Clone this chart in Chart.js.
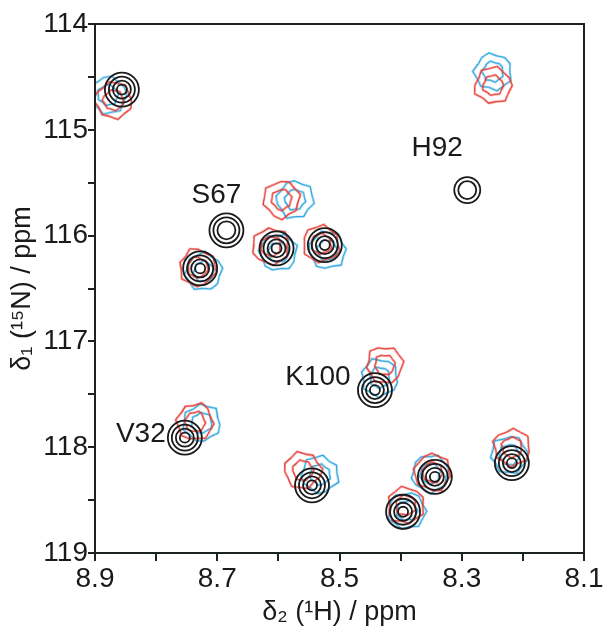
<!DOCTYPE html>
<html>
<head>
<meta charset="utf-8">
<script src="https://cdn.jsdelivr.net/npm/chart.js@4/dist/chart.umd.min.js"></script>
<style>
  html, body { margin: 0; background: #fff; }
</style>
</head>
<body>
<canvas id="chart" width="611" height="629"></canvas>
<script>
// peak positions (1H ppm, 15N ppm)
var blackH = [8.856, 8.685, 8.728, 8.603, 8.524, 8.291, 8.442, 8.753, 8.545, 8.344, 8.396, 8.218];
var blackN = [114.62, 115.95, 116.31, 116.12, 116.09, 115.57, 117.46, 117.91, 118.36, 118.28, 118.61, 118.15];
var blackLevels = [4, 3, 4, 4, 4, 2, 4, 4, 4, 4, 4, 4];

var redH = [8.870, 8.732, 8.612, 8.530, 8.595, 8.249, 8.426, 8.736, 8.560, 8.348, 8.392, 8.218];
var redN = [114.72, 116.30, 116.10, 116.08, 115.66, 114.58, 117.22, 117.76, 118.22, 118.24, 118.55, 118.00];

var blueH = [8.879, 8.722, 8.600, 8.520, 8.573, 8.249, 8.434, 8.725, 8.532, 8.352, 8.390, 8.222];
var blueN = [114.67, 116.34, 116.16, 116.14, 115.66, 114.45, 117.34, 117.77, 118.26, 118.25, 118.60, 118.07];

var peakNames = ["S67", "H92", "K100", "V32"];
var peakOf = [1, 5, 6, 7];

var xTickLabels = ["8.9", "8.7", "8.5", "8.3", "8.1"];
var yTickLabels = ["114", "115", "116", "117", "118", "119"];

var FONT = "'Liberation Sans Narrow', 'Liberation Sans', Arial, sans-serif";
var INK = "#1c2222";

function pts(xs, ys, keep) {
  var out = [];
  xs.forEach(function (x, i) {
    if (!keep || keep(i)) out.push({ x: x, y: ys[i] });
  });
  return out;
}

// wobbly closed contour used as a point style for the red / blue spectra
function blob(color, r, shape) {
  var c = document.createElement("canvas");
  var s = Math.ceil(r * 2.8);
  c.width = c.height = s;
  var g = c.getContext("2d");
  g.strokeStyle = color;
  g.lineWidth = 1.6;
  g.lineJoin = "round";
  g.beginPath();
  shape.forEach(function (m, i) {
    var a = (i / shape.length) * Math.PI * 2;
    var px = s / 2 + Math.cos(a) * r * m;
    var py = s / 2 + Math.sin(a) * r * m;
    if (i) g.lineTo(px, py);
    else g.moveTo(px, py);
  });
  g.closePath();
  g.stroke();
  return c;
}

var redShape = [1.0, 1.08, 0.96, 1.1, 0.92, 1.02, 0.9, 1.12, 1.0, 0.88, 1.05, 0.95, 1.08, 0.93];
var blueShape = [1.05, 0.94, 1.12, 0.98, 1.1, 0.9, 1.06, 0.95, 1.13, 0.92, 1.0, 1.07, 0.9, 1.02];

var RED = "#e63b34";
var BLUE = "#2ba6de";
var ringRadius = [17, 13, 9, 5];

// weak peaks lose the outermost and innermost rings
function hasRing(k, n) {
  return k >= Math.max(0, 3 - n) && k < Math.max(n, 3);
}

var datasets = [];
ringRadius.forEach(function (r, k) {
  datasets.push({
    label: "ref " + k,
    data: pts(blackH, blackN, function (i) { return hasRing(k, blackLevels[i]); }),
    pointStyle: "circle",
    pointRadius: r,
    pointHoverRadius: r,
    pointBorderWidth: 1.8,
    pointBorderColor: "#1a1a1a",
    pointBackgroundColor: "rgba(0,0,0,0)",
    showLine: false,
    order: 0
  });
});
[[redH, redN, RED, redShape, 1], [blueH, blueN, BLUE, blueShape, 2]].forEach(function (s) {
  [18, 10].forEach(function (r) {
    datasets.push({
      label: s[2] + r,
      data: pts(s[0], s[1]),
      pointStyle: blob(s[2], r, s[3]),
      pointRotation: function (ctx) { return (ctx.dataIndex * 67) % 360; },
      showLine: false,
      order: s[4]
    });
  });
});

var frame = {
  id: "frame",
  afterDraw: function (chart) {
    var a = chart.chartArea, ctx = chart.ctx;
    ctx.save();
    ctx.strokeStyle = INK;
    ctx.lineWidth = 2;
    ctx.strokeRect(a.left, a.top, a.right - a.left, a.bottom - a.top);
    ctx.restore();
  }
};

var peakLabels = {
  id: "peakLabels",
  afterDatasetsDraw: function (chart, args, opts) {
    var ctx = chart.ctx, sx = chart.scales.x, sy = chart.scales.y;
    ctx.save();
    ctx.font = "28px " + FONT;
    ctx.fillStyle = "#1a1a1a";
    ctx.textAlign = "center";
    ctx.textBaseline = "middle";
    peakNames.forEach(function (name, j) {
      var i = peakOf[j];
      ctx.fillText(name,
        sx.getPixelForValue(blackH[i]) + opts.offsets[j][0],
        sy.getPixelForValue(blackN[i]) + opts.offsets[j][1]);
    });
    ctx.restore();
  }
};

new Chart("chart", {
  type: "scatter",
  data: { datasets: datasets },
  plugins: [frame, peakLabels],
  options: {
    responsive: false,
    animation: false,
    layout: { padding: { left: 0, right: 27, top: 24, bottom: 0 } },
    plugins: {
      legend: { display: false },
      tooltip: { enabled: false },
      peakLabels: { offsets: [[-10, -35], [-30, -42], [-57, -13], [-44, -3]] }
    },
    scales: {
      x: {
        type: "linear",
        min: 8.1,
        max: 8.9,
        reverse: true,
        afterFit: function (s) { s.height = 76; },
        border: { color: INK, width: 2 },
        grid: { drawOnChartArea: false, color: INK, lineWidth: 2, tickLength: 8 },
        ticks: {
          stepSize: 0.1,
          padding: 1,
          color: "#1a1a1a",
          font: { family: FONT, size: 28 },
          maxRotation: 0,
          autoSkip: false,
          callback: function (v) {
            var t = v.toFixed(1);
            return xTickLabels.indexOf(t) >= 0 ? t : "";
          }
        },
        title: {
          display: true,
          text: "δ₂ (¹H) / ppm",
          color: "#1a1a1a",
          font: { family: FONT, size: 27 },
          padding: { top: 0, bottom: 0 }
        }
      },
      y: {
        type: "linear",
        min: 114,
        max: 119,
        reverse: true,
        afterFit: function (s) { s.width = 95; },
        border: { color: INK, width: 2 },
        grid: { drawOnChartArea: false, color: INK, lineWidth: 2, tickLength: 7 },
        ticks: {
          stepSize: 0.5,
          padding: 0,
          color: "#1a1a1a",
          font: { family: FONT, size: 28 },
          autoSkip: false,
          callback: function (v) {
            var t = String(Math.round(v * 10) / 10);
            return yTickLabels.indexOf(t) >= 0 ? t : "";
          }
        },
        title: {
          display: true,
          text: "δ₁ (¹⁵N) / ppm",
          color: "#1a1a1a",
          font: { family: FONT, size: 27 },
          padding: { top: 6, bottom: 0 }
        }
      }
    }
  }
});
</script>
</body>
</html>
